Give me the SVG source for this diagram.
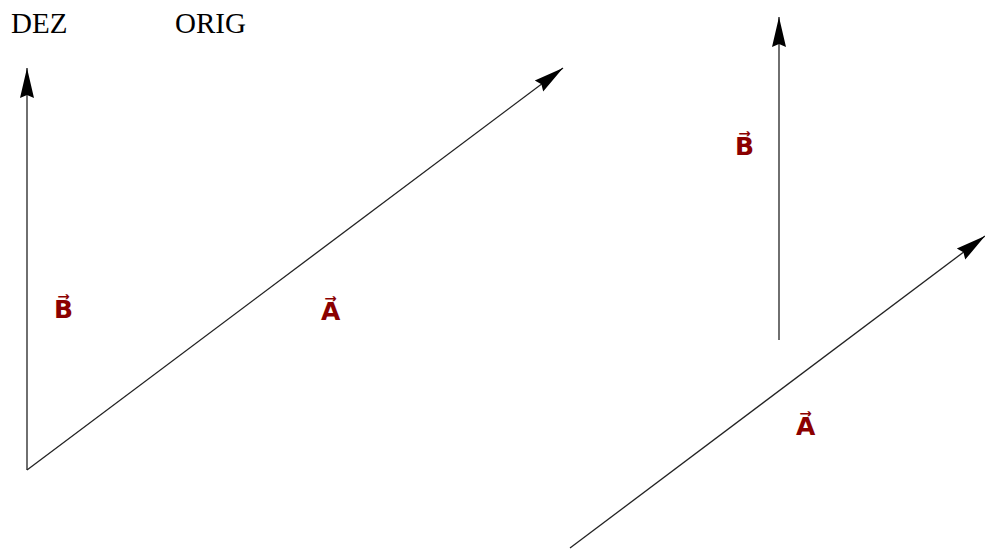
<svg xmlns="http://www.w3.org/2000/svg" width="985" height="550" viewBox="0 0 985 550">
<style>
.hdr{font-family:"Liberation Serif",serif;font-size:29px;fill:#000}
.lbl{font-family:"DejaVu Sans",sans-serif;font-weight:bold;font-size:25px;fill:#8b0000}
.vec{stroke:#222;stroke-width:1.3;fill:none}
</style>
<defs>
<marker id="ah" viewBox="0 0 30 16" refX="30" refY="8" markerWidth="30" markerHeight="16" markerUnits="userSpaceOnUse" orient="auto">
<path d="M0,1 L30,8 L0,15 L3,8 Z" fill="#000"/>
</marker>
</defs>
<rect width="985" height="550" fill="#fff"/>
<g id="header">
<text class="hdr" x="11" y="33">DEZ</text>
<text class="hdr" x="175" y="33">ORIG</text>
</g>
<g id="connectors">
<line class="vec" x1="27" y1="470" x2="27" y2="68" marker-end="url(#ah)"/>
<line class="vec" x1="27" y1="470" x2="563" y2="68" marker-end="url(#ah)"/>
<line class="vec" x1="779" y1="340" x2="779" y2="17" marker-end="url(#ah)"/>
<line class="vec" x1="570" y1="548" x2="985" y2="236" marker-end="url(#ah)"/>
</g>
<g id="labelB1"><text class="lbl" x="54" y="318">B⃗</text></g>
<g id="labelA1"><text class="lbl" x="321" y="320">A⃗</text></g>
<g id="labelB2"><text class="lbl" x="735" y="155">B⃗</text></g>
<g id="labelA2"><text class="lbl" x="796" y="435">A⃗</text></g>
</svg>
